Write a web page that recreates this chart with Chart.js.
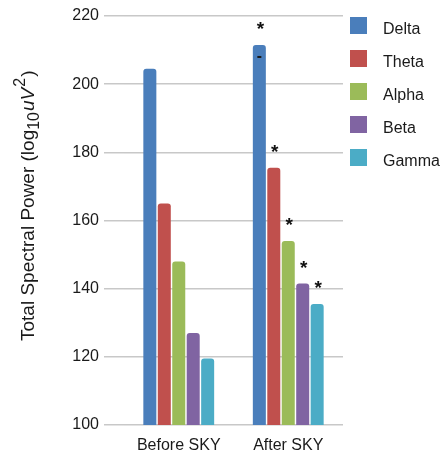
<!DOCTYPE html>
<html>
<head>
<meta charset="utf-8">
<script src="https://cdn.jsdelivr.net/npm/chart.js@4/dist/chart.umd.min.js"></script>
<style>
html,body{margin:0;padding:0;background:#fff;}
#wrap{width:442px;height:455px;position:relative;}
</style>
</head>
<body>
<div id="wrap"><canvas id="c" width="442" height="455"></canvas></div>
<script>
const categories = ['Before SKY', 'After SKY'];
const bands = ['Delta', 'Theta', 'Alpha', 'Beta', 'Gamma'];
const deltaValues = [204.5, 211.5];
const thetaValues = [165, 175.5];
const alphaValues = [148, 154];
const betaValues = [127, 141.5];
const gammaValues = [119.5, 135.5];
const yTicks = [100, 120, 140, 160, 180, 200, 220];
const significantAfter = [true, true, true, true, true];
const colors = ['#4a7ebb', '#c0504d', '#9bbb59', '#8064a2', '#4bacc6'];

const seriesValues = [deltaValues, thetaValues, alphaValues, betaValues, gammaValues];
const FONT = "'Liberation Sans', Arial, Helvetica, sans-serif";

const annotPlugin = {
  id: 'annot',
  afterDatasetsDraw(chart) {
    const ctx = chart.ctx;
    ctx.save();
    ctx.fillStyle = '#111';
    ctx.textAlign = 'center';
    chart.data.datasets.forEach((ds, i) => {
      if (!significantAfter[i]) return;
      const el = chart.getDatasetMeta(i).data[1];
      ctx.font = 'bold 19px ' + FONT;
      ctx.textBaseline = 'middle';
      ctx.fillText('*', el.x + 1, el.y - 15);
    });
    // small dash inside the Delta "after" bar
    const d = chart.getDatasetMeta(0).data[1];
    ctx.fillStyle = '#1a1a1a';
    ctx.fillRect(d.x - 2, d.y + 11, 4, 2);
    ctx.restore();
  },
  afterDraw(chart) {
    const ctx = chart.ctx;
    ctx.save();
    // legend
    const lx = 350, ly = 17, gap = 33, sz = 17;
    chart.data.datasets.forEach((ds, i) => {
      ctx.fillStyle = ds.backgroundColor;
      ctx.fillRect(lx, ly + i * gap, sz, sz);
      ctx.fillStyle = '#1a1a1a';
      ctx.font = '16px ' + FONT;
      ctx.textAlign = 'left';
      ctx.textBaseline = 'middle';
      ctx.fillText(ds.label, 383, ly + i * gap + sz / 2 + 4);
    });
    // y-axis title with subscript / superscript
    ctx.translate(34, 341);
    ctx.rotate(-Math.PI / 2);
    ctx.textAlign = 'left';
    ctx.textBaseline = 'alphabetic';
    ctx.fillStyle = '#1a1a1a';
    let x = 0;
    const seg = (t, f, dy, extra) => {
      ctx.font = f;
      ctx.fillText(t, x, dy);
      x += ctx.measureText(t).width + (extra || 0);
    };
    seg('Total Spectral Power (log', '19px ' + FONT, 0);
    seg('10', '16px ' + FONT, 5, 1);
    seg('uV', 'italic 19px ' + FONT, 0, 1);
    seg('2', '16px ' + FONT, -9, 1);
    seg(')', '19px ' + FONT, 0);
    ctx.restore();
  }
};

new Chart(document.getElementById('c'), {
  type: 'bar',
  data: {
    labels: categories,
    datasets: bands.map((b, i) => ({
      label: b,
      data: seriesValues[i],
      backgroundColor: colors[i],
      borderRadius: { topLeft: 3, topRight: 3 },
      borderSkipped: 'start',
      categoryPercentage: 0.66,
      barPercentage: 0.9
    }))
  },
  options: {
    responsive: false,
    animation: false,
    layout: { padding: { top: 16, right: 99, bottom: 0, left: 0 } },
    plugins: { legend: { display: false }, tooltip: { enabled: false } },
    scales: {
      x: {
        grid: { display: false },
        border: { display: false },
        ticks: { color: '#1a1a1a', font: { family: FONT, size: 16 }, padding: 3 },
        afterFit(s) { s.height = 30; }
      },
      y: {
        min: 100, max: 220,
        afterBuildTicks(s) { s.ticks = yTicks.map(v => ({ value: v })); },
        grid: { color: '#c8c8c8', lineWidth: 1.5, tickLength: 20, drawTicks: true },
        border: { display: false },
        ticks: { color: '#1a1a1a', font: { family: FONT, size: 16 }, padding: 5 },
        afterFit(s) { s.width = 124; }
      }
    }
  },
  plugins: [annotPlugin]
});
</script>
</body>
</html>
